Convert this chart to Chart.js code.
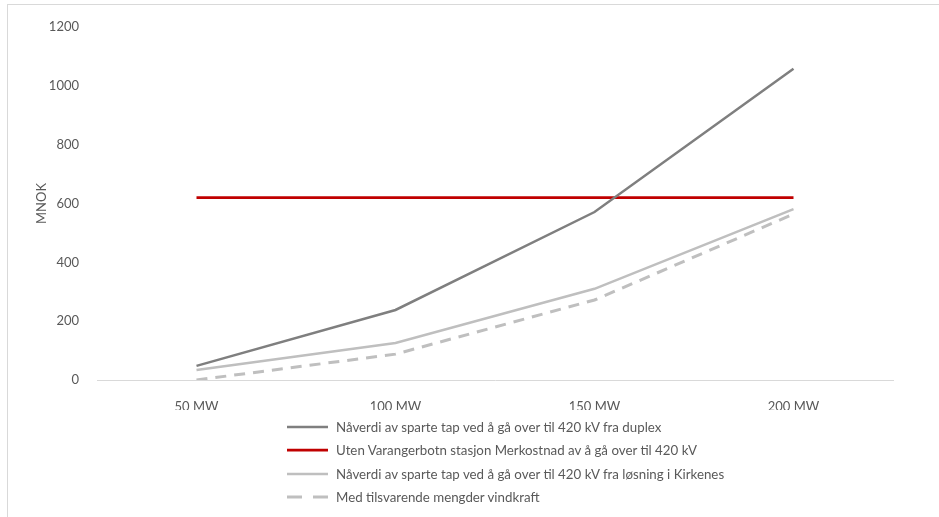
<!DOCTYPE html>
<html>
<head>
<meta charset="utf-8">
<script src="https://cdn.jsdelivr.net/npm/chart.js@4"></script>
<style>
  html, body { margin: 0; padding: 0; background: #fff; }
  body { width: 939px; height: 517px; position: relative; overflow: hidden; font-family: Lato, "Open Sans", sans-serif; }
  .frame { position: absolute; left: 7px; top: 4px; width: 960px; height: 540px; border-left: 1px solid #d9d9d9; border-top: 1px solid #d9d9d9; }
  .chart_box { position: absolute; left: 0; top: 0; width: 939px; height: 410px; }
  .legend { position: absolute; left: 287px; top: 415px; }
  .legend_row { height: 23.5px; display: flex; align-items: center; font-size: 13.3px; color: #595959; white-space: nowrap; }
  .legend_row canvas { margin-right: 8px; }
</style>
</head>
<body>
<div class="frame"></div>
<div class="chart_box"><canvas id="myChart"></canvas></div>
<div class="legend" id="legend"></div>
<script>
let categories = ['50 MW', '100 MW', '150 MW', '200 MW']
let duplex = [48, 238, 571, 1058]
let merkostnad = [620, 620, 620, 620]
let kirkenes = [34, 126, 310, 581]
let vindkraft = [0, 88, 272, 564]
let yTicks = [0, 200, 400, 600, 800, 1000, 1200]

let names = [
  'Nåverdi av sparte tap ved å gå over til 420 kV fra duplex',
  'Uten Varangerbotn stasjon Merkostnad av å gå over til 420 kV',
  'Nåverdi av sparte tap ved å gå over til 420 kV fra løsning i Kirkenes',
  'Med tilsvarende mengder vindkraft'
]

const data = {
  labels: categories,
  datasets: [
    { label: names[0], data: duplex, borderColor: '#7f7f7f', borderWidth: 2.5, borderDash: [] },
    { label: names[1], data: merkostnad, borderColor: '#c00000', borderWidth: 2.75, borderDash: [] },
    { label: names[2], data: kirkenes, borderColor: '#bfbfbf', borderWidth: 2.5, borderDash: [] },
    { label: names[3], data: vindkraft, borderColor: '#bfbfbf', borderWidth: 3, borderDash: [11, 8] }
  ].map(d => ({ ...d, pointRadius: 0, tension: 0, fill: false, borderCapStyle: 'butt' }))
}

const font = { family: 'Lato, "Open Sans", sans-serif', size: 13 }

const config = {
  type: 'line',
  data,
  options: {
    responsive: true,
    maintainAspectRatio: false,
    animation: false,
    layout: { padding: { top: 27, right: 46, left: 34, bottom: 0 } },
    plugins: { legend: { display: false }, tooltip: { enabled: false } },
    scales: {
      x: {
        offset: true,
        grid: { display: false },
        border: { display: true, color: '#d9d9d9', width: 1 },
        ticks: { color: '#595959', font, padding: 11 },
        afterFit: s => { s.height = 30 }
      },
      y: {
        min: 0,
        max: 1200,
        afterBuildTicks: s => { s.ticks = yTicks.map(v => ({ value: v })) },
        grid: { display: false },
        border: { display: false },
        ticks: { color: '#595959', font, padding: 10, callback: v => String(v) },
        title: { display: true, text: 'MNOK', color: '#595959', font, padding: 0 },
        afterFit: s => { s.width = 63 }
      }
    }
  }
}

var myChart = new Chart(document.getElementById('myChart'), config)

// legend as html rows
let legend = document.getElementById('legend')
for (const ds of data.datasets) {
  let row = document.createElement('div')
  row.className = 'legend_row'
  let c = document.createElement('canvas')
  c.width = 41
  c.height = 6
  let ctx = c.getContext('2d')
  ctx.strokeStyle = ds.borderColor
  ctx.lineWidth = ds.borderWidth
  ctx.setLineDash(ds.borderDash.length ? [15, 11] : [])
  ctx.beginPath()
  ctx.moveTo(0, 3)
  ctx.lineTo(41, 3)
  ctx.stroke()
  row.appendChild(c)
  let t = document.createElement('span')
  t.textContent = ds.label
  row.appendChild(t)
  legend.appendChild(row)
}
</script>
</body>
</html>
